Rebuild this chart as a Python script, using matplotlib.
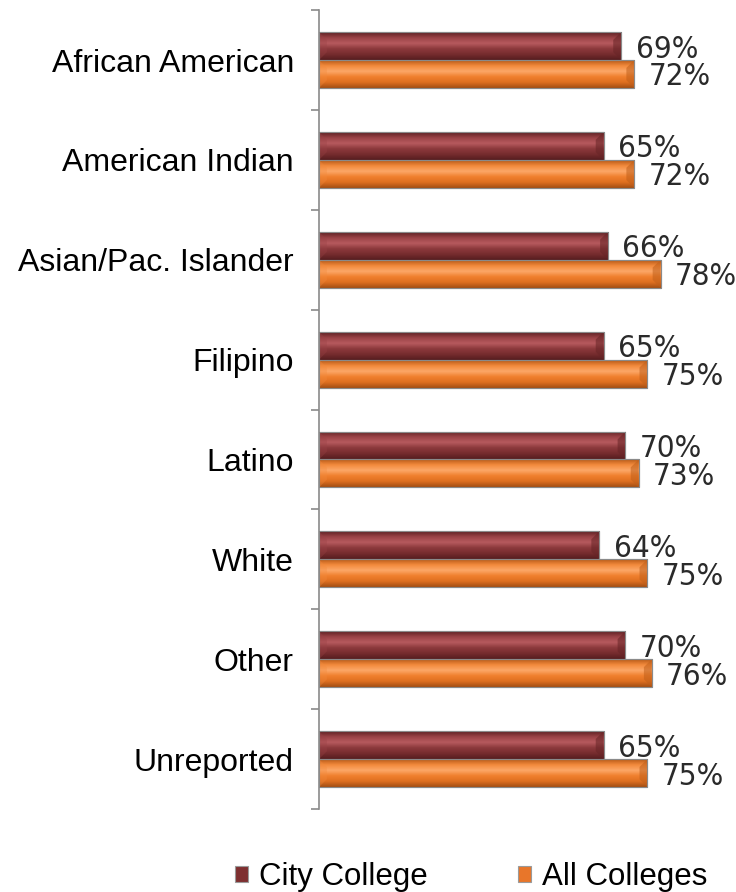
import matplotlib
matplotlib.use("Agg")
import matplotlib.pyplot as plt
import numpy as np
from matplotlib.colors import LinearSegmentedColormap

# data
groups = ["African American", "American Indian", "Asian/Pac. Islander", "Filipino",
          "Latino", "White", "Other", "Unreported"]
city_college = [0.69, 0.65, 0.66, 0.65, 0.70, 0.64, 0.70, 0.65]
all_colleges = [0.72, 0.72, 0.78, 0.75, 0.73, 0.75, 0.76, 0.75]
series_names = ["City College", "All Colleges"]

plt.rcParams['font.family'] = ['Liberation Sans', 'DejaVu Sans']

fig = plt.figure(figsize=(7.36, 8.92), dpi=100)
ax = fig.add_axes([0.4334, 0.093, 0.5652, 0.8957])

y = np.arange(len(groups))
h = 0.28

# verlauf fuer den "3D" effekt der balken
cm_dark = LinearSegmentedColormap.from_list("dark", ["#5e2123", "#9a4246", "#b65a5e", "#8c393c", "#762c2e", "#561d1f"])
cm_orange = LinearSegmentedColormap.from_list("orange", ["#b85a18", "#f28a3c", "#fca767", "#f0802e", "#de6f20", "#a44f14"])

bars1 = ax.barh(y - h / 2, city_college, height=h, color="#7e2f30", edgecolor="#9a9a9a", linewidth=0.8, label=series_names[0])
bars2 = ax.barh(y + h / 2, all_colleges, height=h, color="#e8762a", edgecolor="#9a9a9a", linewidth=0.8, label=series_names[1])

grad = np.linspace(0, 1, 64).reshape(-1, 1)
for bars, cmap in [(bars1, cm_dark), (bars2, cm_orange)]:
    for b in bars:
        x0, y0 = b.get_x(), b.get_y()
        w, hh = b.get_width(), b.get_height()
        im = ax.imshow(grad, cmap=cmap, aspect="auto", extent=[x0, x0 + w, y0 + hh, y0],
                       origin="upper", zorder=b.get_zorder() + 0.1)
        im.set_clip_path(b)
        # schraege kanten an den enden
        ax.fill([x0 + w - 0.018, x0 + w, x0 + w, x0 + w - 0.018],
                [y0 + hh * 0.28, y0, y0 + hh, y0 + hh * 0.72],
                color=cmap(0.9), alpha=0.55, zorder=b.get_zorder() + 0.2, linewidth=0)
        ax.fill([x0 + 0.018, x0, x0, x0 + 0.018],
                [y0 + hh * 0.28, y0, y0 + hh, y0 + hh * 0.72],
                color=cmap(0.2), alpha=0.35, zorder=b.get_zorder() + 0.2, linewidth=0)
        ax.add_patch(plt.Rectangle((x0, y0), w, hh, fill=False, edgecolor="#8a8a8a",
                                   linewidth=0.8, zorder=b.get_zorder() + 0.3))

lab_font = dict(family=['Liberation Sans Narrow', 'DejaVu Sans'], fontstretch='condensed',
                fontweight='light')
for i in range(len(groups)):
    ax.text(city_college[i] + 0.033, y[i] - h / 2 + 0.03, f"{city_college[i]:.0%}",
            va="center", ha="left", fontsize=22.5, color="#2a2a2a", **lab_font)
    ax.text(all_colleges[i] + 0.033, y[i] + h / 2 + 0.03, f"{all_colleges[i]:.0%}",
            va="center", ha="left", fontsize=22.5, color="#2a2a2a", **lab_font)

ax.set_xlim(0, 0.95)
ax.set_ylim(len(groups) - 0.5, -0.5)
ax.set_yticks(y)
ax.set_yticklabels(groups, fontsize=23)
ax.set_yticks(np.arange(len(groups) + 1) - 0.5, minor=True)
ax.tick_params(axis="y", which="major", length=0, pad=18)
ax.tick_params(axis="y", which="minor", length=6, width=1.2, color="#8a8a8a")
ax.set_xticks([])
for s in ["top", "right", "bottom"]:
    ax.spines[s].set_visible(False)
ax.spines["left"].set_color("#8a8a8a")
ax.spines["left"].set_linewidth(1.2)

fig.legend(handles=[bars1, bars2], labels=series_names, loc="center", bbox_to_anchor=(0.64, 0.017),
           ncol=2, frameon=False, fontsize=22.5, handlelength=0.42, handleheight=0.42,
           handletextpad=0.35, columnspacing=2.9)

fig.savefig("out.png", dpi=100)
